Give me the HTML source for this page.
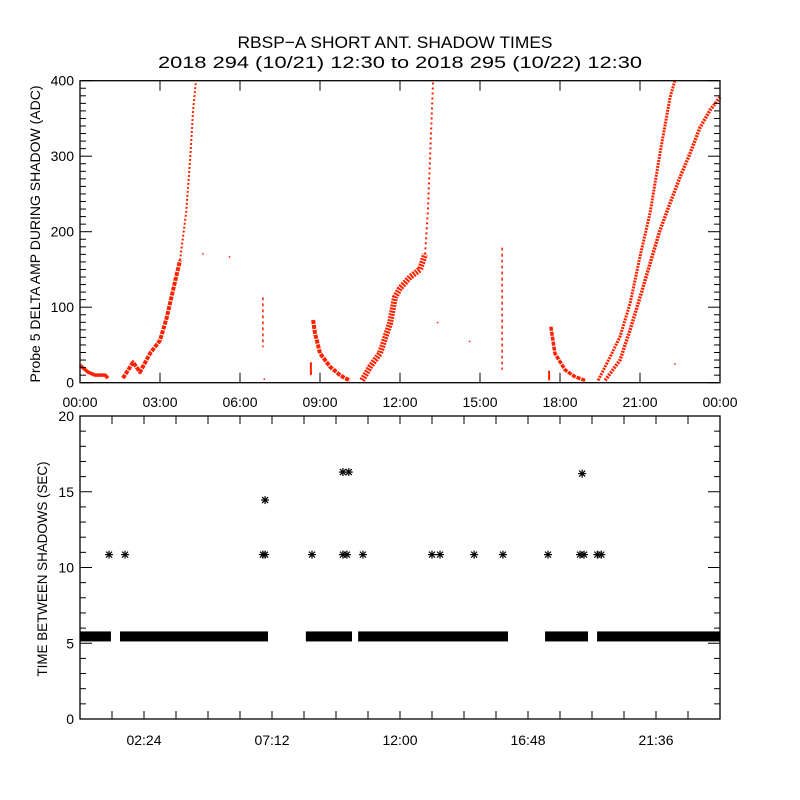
<!DOCTYPE html>
<html><head><meta charset="utf-8"><style>
body{margin:0;background:#fff}
svg{display:block;font-family:"Liberation Sans","DejaVu Sans",sans-serif}
</style></head><body>
<svg id="c" width="800" height="800" viewBox="0 0 800 800">
<text x="395" y="48" text-anchor="middle" font-size="17" textLength="315" lengthAdjust="spacingAndGlyphs">RBSP−A SHORT ANT. SHADOW TIMES</text>
<text x="400" y="68" text-anchor="middle" font-size="17" textLength="484" lengthAdjust="spacingAndGlyphs">2018 294 (10/21) 12:30 to 2018 295 (10/22) 12:30</text>
<text transform="translate(40,234) rotate(-90)" text-anchor="middle" font-size="14" textLength="297" lengthAdjust="spacingAndGlyphs">Probe 5 DELTA AMP DURING SHADOW (ADC)</text>
<text transform="translate(47,569) rotate(-90)" text-anchor="middle" font-size="14" textLength="215" lengthAdjust="spacingAndGlyphs">TIME BETWEEN SHADOWS (SEC)</text>
<g id="top"></g>
<g id="bot"></g>
</svg>
<script>
// ---- top panel data: arcs of (hour, value) ----
const arcA_h=[0,0.3,0.56,0.94,1.05];
const arcA_v=[23,14,10,10,6];
const arcB_h=[1.61,1.99,2.25,2.63,3.0,3.26,3.49,3.75];
const arcB_v=[6,27,14,39,56,87,123,162];
const arcBtop_h=[3.75,3.98,4.13,4.24,4.35];
const arcBtop_v=[162,225,295,361,400];
const spike1_h=[6.86,6.86];
const spike1_v=[113,47];
const spike2_h=[8.66,8.66];
const spike2_v=[27,10];
const arcC_h=[8.74,8.81,9.0,9.38,9.75,9.94,10.13];
const arcC_v=[83,66,39,21,10,6,3];
const arcD_h=[10.58,10.88,11.25,11.63,11.81,12.0,12.38,12.75,12.94];
const arcD_v=[3,21,39,79,113,125,140,150,170];
const arcDtop_h=[12.94,13.05,13.13,13.24];
const arcDtop_v=[170,230,300,400];
const spike3_h=[15.83,15.83];
const spike3_v=[179,17];
const spike4_h=[17.59,17.59];
const spike4_v=[16,3];
const arcE_h=[17.66,17.81,18.19,18.56,18.94];
const arcE_v=[74,39,17,8,3];
const arcF1_h=[19.43,19.88,20.25,20.63,21.0,21.38,21.75,22.13,22.31];
const arcF1_v=[3,34,61,105,167,225,304,378,400];
const arcF2_h=[19.69,20.25,20.63,21.0,21.38,21.75,22.13,22.5,22.88,23.25,23.63,24];
const arcF2_v=[3,30,70,113,158,202,238,272,304,338,361,378];
const dots_h=[4.6,5.6,6.9,13.4,14.6,22.3];
const dots_v=[171,167,5,80,55,25];
const topYTicks=[0,100,200,300,400];
const topXLabels=["00:00","03:00","06:00","09:00","12:00","15:00","18:00","21:00","00:00"];
// ---- bottom panel data ----
const bandStart=[0,1.5,8.47,10.43,17.44,19.39];
const bandEnd=[1.16,7.05,10.2,16.05,19.05,24];
const bandVal=[5.45,5.45,5.45,5.45,5.45,5.45];
const star_h=[1.09,1.69,6.86,6.94,8.7,9.86,10.01,10.61,13.2,13.5,14.78,15.86,17.55,18.75,18.9,19.4,19.55,6.94,9.86,10.08,18.83];
const star_v=[10.85,10.85,10.85,10.85,10.85,10.85,10.85,10.85,10.85,10.85,10.85,10.85,10.85,10.85,10.85,10.85,10.85,14.45,16.3,16.3,16.2];
const botYTicks=[0,5,10,15,20];
const botXLabels=["02:24","07:12","12:00","16:48","21:36"];

const NS="http://www.w3.org/2000/svg";
function mk(p,t,a){const e=document.createElementNS(NS,t);for(const k in a)e.setAttribute(k,a[k]);p.appendChild(e);return e;}
const X0=80,X1=720;
const xs=h=>X0+h*(X1-X0)/24;
const T0=382.7,T1=80.7; const ty=v=>T0+(T1-T0)*v/400;
const B0=719,B1=416; const by=v=>B0+(B1-B0)*v/20;
const gTop=document.getElementById('top'), gBot=document.getElementById('bot');
const RED="#ff2200";

function arc(hs,vs,w,name,dash){
  const pts=hs.map((h,i)=>xs(h).toFixed(1)+","+ty(vs[i]).toFixed(1)).join(" ");
  const e=mk(gTop,'polyline',{points:pts,fill:'none',stroke:RED,'stroke-width':w,'stroke-linejoin':'round'});
  if(dash)e.setAttribute('stroke-dasharray',dash);
  
  
}
arc(arcA_h,arcA_v,3.5,'series-arc-a');
arc(arcB_h,arcB_v,4,'series-arc-b','4 1');
arc(arcBtop_h,arcBtop_v,2,'series-arc-b-top','2 2');
arc(spike1_h,spike1_v,1.5,'series-spike-1','3 3');
arc(spike2_h,spike2_v,2,'series-spike-2');
arc(arcC_h,arcC_v,4,'series-arc-c','4 1');
arc(arcD_h,arcD_v,6,'series-arc-d','2 1');
arc(arcDtop_h,arcDtop_v,2,'series-arc-d-top','2 3');
arc(spike3_h,spike3_v,1.5,'series-spike-3','3 3');
arc(spike4_h,spike4_v,2,'series-spike-4');
arc(arcE_h,arcE_v,3.5,'series-arc-e','4 1');
arc(arcF1_h,arcF1_v,3,'series-arc-f1','2 1');
arc(arcF2_h,arcF2_v,3.5,'series-arc-f2','2 1');
dots_h.forEach((h,i)=>{
  const d=mk(gTop,'rect',{x:xs(h)-0.5,y:ty(dots_v[i])-0.5,width:1.5,height:1.5,fill:RED});
  
  
});

function frame(g,yTop,yBot,name){
  const r=mk(g,'rect',{x:X0,y:yTop,width:X1-X0,height:yBot-yTop,fill:'none',stroke:'#000','stroke-width':1.3});
  
  
}
// top axes
frame(gTop,T1,T0,'top-plot-frame');
for(let v=0;v<=400;v+=10){const L=v%100===0?12:6;const y=ty(v);
  mk(gTop,'line',{x1:X0,x2:X0+L,y1:y,y2:y,stroke:'#000'});mk(gTop,'line',{x1:X1,x2:X1-L,y1:y,y2:y,stroke:'#000'});}
topYTicks.forEach(v=>{const t=mk(gTop,'text',{x:74,y:ty(v)+5,'text-anchor':'end','font-size':14});t.textContent=v;
  
  });
topXLabels.forEach((s,i)=>{const x=xs(i*3);
  mk(gTop,'line',{x1:x,x2:x,y1:T0,y2:T0-10,stroke:'#000'});mk(gTop,'line',{x1:x,x2:x,y1:T1,y2:T1+10,stroke:'#000'});
  const t=mk(gTop,'text',{x:x,y:407,'text-anchor':'middle','font-size':14});t.textContent=s;
  
  });

// bottom axes
frame(gBot,B1,B0,'bottom-plot-frame');
for(let v=0;v<=20;v+=1){const L=v%5===0?12:6;const y=by(v);
  mk(gBot,'line',{x1:X0,x2:X0+L,y1:y,y2:y,stroke:'#000'});mk(gBot,'line',{x1:X1,x2:X1-L,y1:y,y2:y,stroke:'#000'});}
botYTicks.forEach(v=>{const t=mk(gBot,'text',{x:74,y:by(v)+5,'text-anchor':'end','font-size':14});t.textContent=v;
  
  });
for(let h=1.2;h<24;h+=1.2){const x=xs(h);
  mk(gBot,'line',{x1:x,x2:x,y1:B0,y2:B0-8,stroke:'#000'});mk(gBot,'line',{x1:x,x2:x,y1:B1,y2:B1+8,stroke:'#000'});}
botXLabels.forEach((s,i)=>{const x=xs(2.4+i*4.8);
  const t=mk(gBot,'text',{x:x,y:745,'text-anchor':'middle','font-size':14});t.textContent=s;
  
  });
bandStart.forEach((s,i)=>{
  const r=mk(gBot,'rect',{x:xs(s),y:by(bandVal[i])-5,width:xs(bandEnd[i])-xs(s),height:10,fill:'#000'});
  
  
});
star_h.forEach((h,i)=>{
  const x=xs(h),y=by(star_v[i]);
  const g=mk(gBot,'g',{stroke:'#000','stroke-width':1.2});
  
  
  mk(g,'line',{x1:x-4,x2:x+4,y1:y,y2:y});mk(g,'line',{x1:x,x2:x,y1:y-4,y2:y+4});
  mk(g,'line',{x1:x-3,x2:x+3,y1:y-3,y2:y+3});mk(g,'line',{x1:x-3,x2:x+3,y1:y+3,y2:y-3});
});
</script>
</body></html>
